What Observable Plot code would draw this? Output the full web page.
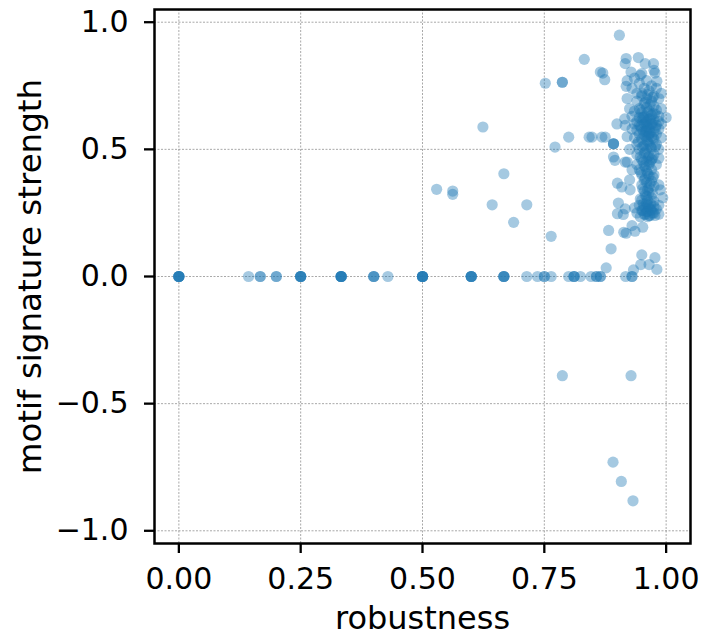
<!DOCTYPE html>
<html>
<head>
<meta charset="utf-8">
<script src="https://cdn.jsdelivr.net/npm/d3@7"></script>
<script src="https://cdn.jsdelivr.net/npm/@observablehq/plot@0.6"></script>
<style>
  body { margin: 0; background: #fff; }
  #chart svg { display: block; }
</style>
</head>
<body>
<div id="chart"></div>
<script>
// --- Data ---
// Points with strength exactly 0 (duplicates are repeated)
const zeroRobustness = [
  0,0,0,0,0,0, 0.143, 0.167,0.167, 0.2,0.2, 0.25,0.25,0.25,0.25,0.25,
  0.333,0.333,0.333,0.333,0.333,0.333, 0.4,0.4,0.4, 0.429,
  0.5,0.5,0.5,0.5,0.5,0.5, 0.6,0.6,0.6,0.6,0.6, 0.667,0.667,0.667,0.667,
  0.714, 0.736, 0.75,0.75, 0.764, 0.8, 0.811,0.811,0.811, 0.824, 0.846,
  0.857,0.857, 0.865,0.865, 0.917, 0.93,0.93
];

// Scattered points outside the dense cluster
const outerRobustness = [
  0.529,0.562,0.562,0.624,0.643,0.667,0.687,0.714,0.752,0.764,0.772,0.787,0.787,0.8,0.842,
  0.832,0.865,0.87,0.874,0.848,0.868,0.875,0.892,0.892,0.892,0.899,0.904,0.916,0.895,0.892,
  0.916,0.9,0.909,0.926,0.902,0.916,0.9,0.912,0.882,0.913,0.918,0.93,0.936,0.952,0.887,
  0.877,0.933,0.95,0.948,0.965,0.977,0.981,0.787,0.928,0.891,0.908,0.932
];
const outerStrength = [
  0.343,0.336,0.323,0.588,0.282,0.404,0.213,0.282,0.76,0.158,0.509,0.764,0.764,0.548,0.548,
  0.854,0.804,0.8,0.774,0.548,0.548,0.548,0.522,0.522,0.522,0.6,0.949,0.594,0.457,0.47,
  0.45,0.367,0.352,0.341,0.289,0.266,0.247,0.244,0.181,0.174,0.17,0.2,0.178,0.194,0.109,
  0.034,0.026,0.085,0.047,0.047,0.074,0.028,-0.39,-0.39,-0.73,-0.806,-0.882
];

// Dense cluster at high robustness
const coreRobustness = [
  0.918,0.916,0.943,0.957,0.974,0.928,0.95,0.947,0.975,0.977,0.981,0.918,1.0,0.993,0.988,
  0.935,0.945,0.96,0.97,0.955,0.94,0.965,0.98,0.95,0.96,0.975,0.99,0.94,0.955,0.97,0.985,
  0.945,0.96,0.975,0.935,0.95,0.965,0.98,0.99,0.93,0.945,0.955,0.97,0.985,
  0.94,0.95,0.96,0.965,0.975,0.985,0.935,0.945,0.955,0.96,0.97,0.98,0.99,0.93,0.94,0.95,
  0.96,0.965,0.975,0.985,0.945,0.955,0.965,0.97,0.98,0.935,0.95,0.96,0.975,0.99,0.94,
  0.955,0.965,0.98,0.945,0.96,0.97,0.985,
  0.94,0.955,0.965,0.975,0.95,0.96,0.97,0.985,0.94,0.955,0.965,0.98,0.945,0.96,0.97,0.95,
  0.965,0.975,0.955,0.96,0.97,0.95,0.965,0.975,0.985,
  0.955,0.965,0.96,0.97,0.95,0.96,0.975,0.945,0.955,0.965,0.975,0.985,0.95,0.96,0.97,0.98,
  0.955,0.965,0.975,0.985,0.935,0.94,
  0.92,0.925,0.915,0.92,0.925,0.92,0.93,0.925,0.93,0.92,
  // extra density in the core
  0.95,0.962,0.972,0.957,0.967,0.947,0.962,0.977,0.952,0.968,0.958,0.972,0.948,0.963,0.978,
  0.953,0.967,0.958,0.973,0.943,0.962,0.952,0.968,0.978,0.957,0.947,0.963,0.972,0.953,0.967,
  0.958,0.948,0.962,0.973,0.957,0.967,0.952,0.962,0.972,0.957,0.947,0.962,0.968,0.953,0.963,
  0.958,0.968,0.952,0.962,0.972,0.957,0.967,0.947,0.962,0.977,0.958,0.968,0.953,0.963,0.973
];
const coreStrength = [
  0.857,0.837,0.861,0.837,0.837,0.804,0.798,0.791,0.811,0.8,0.768,0.748,0.625,0.31,0.341,
  0.78,0.76,0.77,0.75,0.74,0.72,0.73,0.74,0.71,0.70,0.71,0.72,0.69,0.68,0.69,0.70,
  0.66,0.665,0.67,0.65,0.645,0.65,0.655,0.66,0.63,0.625,0.63,0.635,0.63,
  0.61,0.615,0.61,0.62,0.615,0.61,0.60,0.595,0.60,0.59,0.60,0.595,0.60,0.58,0.575,0.58,
  0.575,0.58,0.57,0.58,0.56,0.555,0.56,0.55,0.56,0.545,0.54,0.535,0.54,0.545,0.52,
  0.515,0.52,0.52,0.50,0.50,0.505,0.50,
  0.48,0.485,0.475,0.48,0.46,0.455,0.46,0.465,0.44,0.435,0.44,0.44,0.42,0.415,0.42,0.40,
  0.395,0.40,0.38,0.37,0.375,0.36,0.35,0.355,0.36,
  0.335,0.33,0.315,0.31,0.30,0.29,0.295,0.28,0.275,0.27,0.275,0.28,0.26,0.255,0.26,0.265,
  0.245,0.24,0.25,0.245,0.27,0.25,
  0.70,0.66,0.62,0.55,0.50,0.45,0.42,0.38,0.74,0.77,
  // extra density in the core
  0.72,0.715,0.705,0.685,0.675,0.655,0.645,0.64,0.625,0.62,0.605,0.6,0.59,0.585,0.585,
  0.57,0.565,0.55,0.545,0.53,0.53,0.51,0.51,0.51,0.49,0.47,0.47,0.465,0.45,0.45,
  0.43,0.41,0.405,0.39,0.385,0.365,0.345,0.34,0.325,0.32,0.305,0.30,0.285,0.285,0.28,
  0.27,0.265,0.26,0.255,0.25,0.245,0.24,0.235,0.235,0.24,0.57,0.6,0.625,0.55,0.64
];

const xTicks = [0, 0.25, 0.5, 0.75, 1.0];
const yTicks = [-1.0, -0.5, 0.0, 0.5, 1.0];

// Build table for Plot
const points = [
  ...zeroRobustness.map(r => ({robustness: r, strength: 0})),
  ...outerRobustness.map((r, i) => ({robustness: r, strength: outerStrength[i]})),
  ...coreRobustness.map((r, i) => ({robustness: r, strength: coreStrength[i]}))
];

const chart = Plot.plot({
  width: 702,
  height: 638,
  marginLeft: 154,
  marginRight: 12,
  marginTop: 9,
  marginBottom: 95,
  style: {fontFamily: "'DejaVu Sans', sans-serif", fontSize: "30px", background: "#fff", color: "#000"},
  x: {domain: [-0.05, 1.05]},
  y: {domain: [-1.05, 1.05]},
  marks: [
    Plot.gridX(xTicks, {stroke: "#777", strokeOpacity: 0.8, strokeWidth: 0.8, strokeDasharray: "2,1.5"}),
    Plot.gridY(yTicks, {stroke: "#777", strokeOpacity: 0.8, strokeWidth: 0.8, strokeDasharray: "2,1.5"}),
    Plot.dot(points, {x: "robustness", y: "strength", r: 5.6, fill: "#1f77b4", fillOpacity: 0.4, stroke: "none"}),
    Plot.frame({stroke: "#000", strokeWidth: 2.5}),
    Plot.axisX(xTicks, {tickSize: 10, tickPadding: 14, strokeWidth: 2.3, tickFormat: d3.format(".2f"), label: null, fontSize: 30}),
    Plot.axisY(yTicks, {tickSize: 10, tickPadding: 16, strokeWidth: 2.3, tickFormat: d3.format(".1f"), label: null, fontSize: 30}),
    Plot.text(["robustness"], {frameAnchor: "bottom", dy: 75, lineAnchor: "middle", textAnchor: "middle", fontSize: 32, fill: "#000"}),
    Plot.text(["motif signature strength"], {frameAnchor: "left", dx: -124, rotate: -90, lineAnchor: "middle", textAnchor: "middle", fontSize: 32.5, fill: "#000"})
  ]
});
document.getElementById("chart").appendChild(chart);
</script>
</body>
</html>
